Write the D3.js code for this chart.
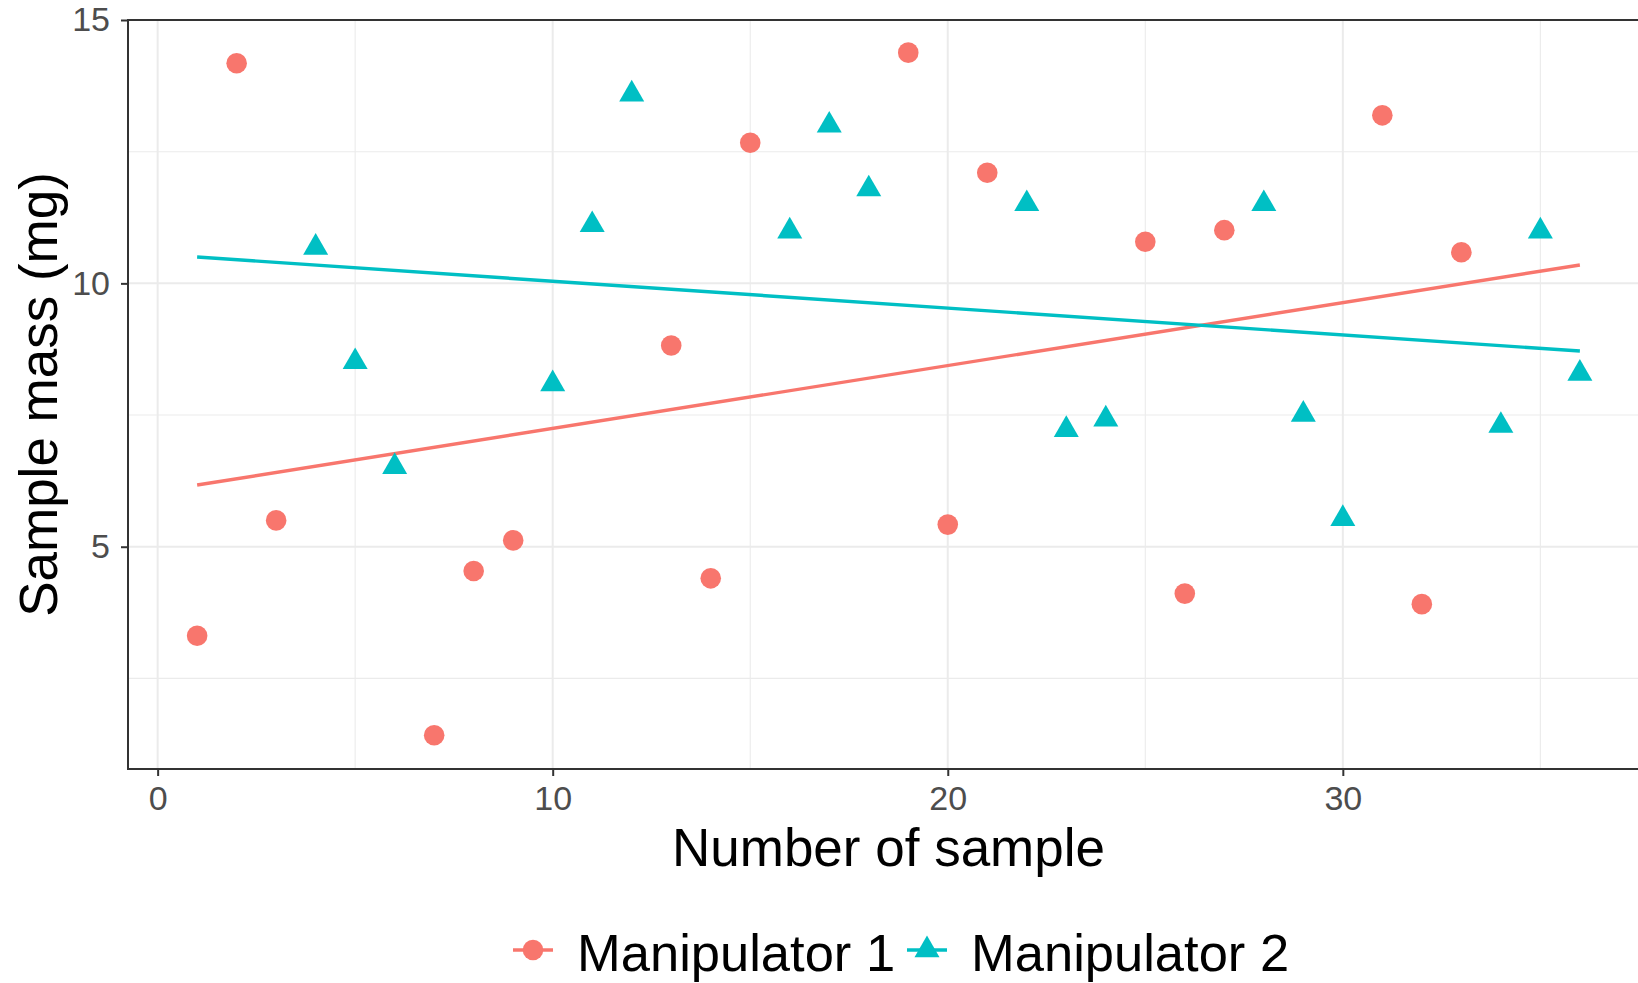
<!DOCTYPE html>
<html>
<head>
<meta charset="utf-8">
<script src="https://cdn.jsdelivr.net/npm/d3@7"></script>
<style>
  html, body { margin: 0; padding: 0; background: #fff; }
  svg { display: block; font-family: "Liberation Sans", Arial, sans-serif; }
</style>
</head>
<body>
<svg id="chart" width="1638" height="983"></svg>
<script>
// ---- data ----
const seriesNames = ["Manipulator 1", "Manipulator 2"];
const m1X = [1, 2, 3, 7, 8, 9, 13, 14, 15, 19, 20, 21, 25, 26, 27, 31, 32, 33];
const m1Y = [3.31, 14.18, 5.50, 1.42, 4.54, 5.12, 8.82, 4.40, 12.67, 14.38, 5.42, 12.10, 10.79, 4.11, 11.01, 13.19, 3.91, 10.59];
const m2X = [4, 5, 6, 10, 11, 12, 16, 17, 18, 22, 23, 24, 28, 29, 30, 34, 35, 36];
const m2Y = [10.68, 8.51, 6.52, 8.09, 11.11, 13.59, 10.99, 13.00, 11.79, 11.51, 7.22, 7.42, 11.51, 7.51, 5.53, 7.30, 10.99, 8.29];
const xTicks = [0, 10, 20, 30];
const xMinor = [5, 15, 25, 35];
const yTicks = [5, 10, 15];
const yMinor = [2.5, 7.5, 12.5];
const yDomain = [0.78, 15.0];
const colors = ["#F8766D", "#00BFC4"];
const xTitle = "Number of sample";
const yTitle = "Sample mass (mg)";

// ---- layout ----
const svg = d3.select("#chart");
const panel = { left: 128, top: 20, right: 1649, bottom: 769 };

const allX = m1X.concat(m2X);
function expand(ext) { const r = ext[1] - ext[0]; return [ext[0] - 0.05 * r, ext[1] + 0.05 * r]; }
const x = d3.scaleLinear().domain(expand(d3.extent(allX))).range([panel.left, panel.right]);
const y = d3.scaleLinear().domain(yDomain).range([panel.bottom, panel.top]);

const grid = svg.append("g");
grid.selectAll(".vminor").data(xMinor).join("line").attr("class", "vminor")
  .attr("x1", d => x(d)).attr("x2", d => x(d)).attr("y1", panel.top).attr("y2", panel.bottom)
  .attr("stroke", "#EBEBEB").attr("stroke-width", 1.1);
grid.selectAll(".hminor").data(yMinor).join("line").attr("class", "hminor")
  .attr("y1", d => y(d)).attr("y2", d => y(d)).attr("x1", panel.left).attr("x2", panel.right)
  .attr("stroke", "#EBEBEB").attr("stroke-width", 1.1);
grid.selectAll(".vmajor").data(xTicks).join("line").attr("class", "vmajor")
  .attr("x1", d => x(d)).attr("x2", d => x(d)).attr("y1", panel.top).attr("y2", panel.bottom)
  .attr("stroke", "#EBEBEB").attr("stroke-width", 2);
grid.selectAll(".hmajor").data(yTicks).join("line").attr("class", "hmajor")
  .attr("y1", d => y(d)).attr("y2", d => y(d)).attr("x1", panel.left).attr("x2", panel.right)
  .attr("stroke", "#EBEBEB").attr("stroke-width", 2);

// regression lines (least squares)
function lm(xs, ys) {
  const mx = d3.mean(xs), my = d3.mean(ys);
  let sxy = 0, sxx = 0;
  xs.forEach((v, i) => { sxy += (v - mx) * (ys[i] - my); sxx += (v - mx) * (v - mx); });
  const b = sxy / sxx; return { a: my - b * mx, b };
}
const xr = d3.extent(allX);
const series = [ { xs: m1X, ys: m1Y }, { xs: m2X, ys: m2Y } ];
const line = d3.line().x(d => x(d[0])).y(d => y(d[1]));
series.forEach((s, i) => {
  const f = lm(s.xs, s.ys);
  svg.append("path").datum(xr.map(v => [v, f.a + f.b * v]))
    .attr("d", line).attr("fill", "none").attr("stroke", colors[i]).attr("stroke-width", 3.4);
});

// points
const circleSym = d3.symbol().type(d3.symbolCircle).size(Math.PI * 10.3 * 10.3);
const triSym = d3.symbol().type(d3.symbolTriangle).size(Math.sqrt(3) / 4 * 25 * 25);
svg.append("g").selectAll("path").data(m1X.map((v, i) => [v, m1Y[i]])).join("path")
  .attr("d", circleSym).attr("transform", d => `translate(${x(d[0])},${y(d[1])})`).attr("fill", colors[0]);
svg.append("g").selectAll("path").data(m2X.map((v, i) => [v, m2Y[i]])).join("path")
  .attr("d", triSym).attr("transform", d => `translate(${x(d[0])},${y(d[1])})`).attr("fill", colors[1]);

// panel border
svg.append("rect").attr("x", panel.left).attr("y", panel.top)
  .attr("width", panel.right - panel.left).attr("height", panel.bottom - panel.top)
  .attr("fill", "none").attr("stroke", "#333333").attr("stroke-width", 2);

// axes
const xAxis = svg.append("g").attr("transform", `translate(0,${panel.bottom})`)
  .call(d3.axisBottom(x).tickValues(xTicks).tickSize(7).tickPadding(10).tickFormat(d3.format("d")));
const yAxis = svg.append("g").attr("transform", `translate(${panel.left},0)`)
  .call(d3.axisLeft(y).tickValues(yTicks).tickSize(7).tickPadding(11).tickFormat(d3.format("d")));
[xAxis, yAxis].forEach(g => {
  g.select(".domain").remove();
  g.selectAll(".tick line").attr("stroke", "#333333").attr("stroke-width", 2);
  g.selectAll(".tick text").attr("fill", "#4D4D4D").style("font-size", "34px")
    .style("font-family", "'Liberation Sans', Arial, sans-serif");
});

// titles
svg.append("text").attr("x", (panel.left + panel.right) / 2).attr("y", 866)
  .attr("text-anchor", "middle").attr("fill", "#000").style("font-size", "53px").text(xTitle);
svg.append("text").attr("transform", `translate(57,${(panel.top + panel.bottom) / 2}) rotate(-90)`)
  .attr("text-anchor", "middle").attr("fill", "#000").style("font-size", "53px").text(yTitle);

// legend
const legY = 950;
const legItems = [ { key: 533, text: 577 }, { key: 927, text: 971 } ];
seriesNames.forEach((name, i) => {
  const g = svg.append("g");
  const cx = legItems[i].key;
  g.append("line").attr("x1", cx - 20).attr("x2", cx + 20).attr("y1", legY).attr("y2", legY)
    .attr("stroke", colors[i]).attr("stroke-width", 3.4);
  g.append("path").attr("d", i === 0 ? circleSym : triSym)
    .attr("transform", `translate(${cx},${legY})`).attr("fill", colors[i]);
  g.append("text").attr("x", legItems[i].text).attr("y", 971).attr("fill", "#000")
    .style("font-size", "52.5px").text(name);
});
</script>
</body>
</html>
